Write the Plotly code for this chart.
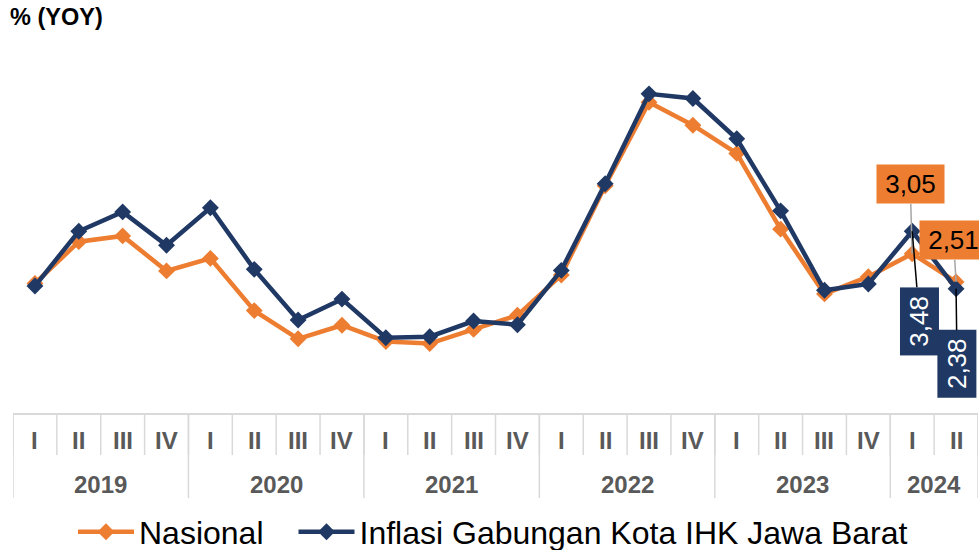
import plotly.graph_objects as go

years = ["2019", "2020", "2021", "2022", "2023", "2024"]
quarters_per_year = [4, 4, 4, 4, 4, 2]
quarter_names = ["I", "II", "III", "IV"]

categories = []
quarter_labels = []
for y, n in zip(years, quarters_per_year):
    for q in quarter_names[:n]:
        categories.append(f"{q} {y}")
        quarter_labels.append(q)

nasional = [2.48, 3.28, 3.39, 2.72, 2.96, 1.96, 1.42, 1.68,
            1.37, 1.33, 1.60, 1.87, 2.64, 4.35, 5.95, 5.51,
            4.97, 3.52, 2.28, 2.61, 3.05, 2.51]
jabar = [2.43, 3.48, 3.85, 3.21, 3.93, 2.75, 1.78, 2.18,
         1.44, 1.46, 1.76, 1.69, 2.73, 4.39, 6.11, 6.02,
         5.25, 3.87, 2.35, 2.47, 3.48, 2.38]

name_nas = "Nasional"
name_jb = "Inflasi Gabungan Kota IHK Jawa Barat"
ORANGE = "#ED7D31"
NAVY = "#203864"
GRID = "#D9D9D9"
FONT = "Arial, Liberation Sans, sans-serif"

W, H = 979, 550
PLOT_H = 397.0

fig = go.Figure()
fig.add_trace(go.Scatter(x=categories, y=nasional, name=name_nas, mode="lines+markers",
                         line=dict(color=ORANGE, width=4.5),
                         marker=dict(symbol="diamond", size=13, color=ORANGE),
                         legend="legend"))
fig.add_trace(go.Scatter(x=categories, y=jabar, name=name_jb, mode="lines+markers",
                         line=dict(color=NAVY, width=4.5),
                         marker=dict(symbol="diamond", size=13, color=NAVY),
                         legend="legend2"))

shapes = []
annotations = []
n = len(categories)
for i in range(n + 1):
    shapes.append(dict(type="line", xref="x", yref="paper", x0=i - 0.5, x1=i - 0.5,
                       y0=0, y1=-42 / PLOT_H, line=dict(color=GRID, width=1.5)))
for i, q in enumerate(quarter_labels):
    annotations.append(dict(x=categories[i], y=-27.5 / PLOT_H, xref="x", yref="paper",
                            text=f"<b>{q}</b>", showarrow=False, yanchor="middle",
                            font=dict(family=FONT, size=24, color="#595959")))
start = 0
bounds = [0]
for y, k in zip(years, quarters_per_year):
    annotations.append(dict(x=start + (k - 1) / 2, y=-71 / PLOT_H, xref="x", yref="paper",
                            text=f"<b>{y}</b>", showarrow=False, yanchor="middle",
                            font=dict(family=FONT, size=24, color="#595959")))
    start += k
    bounds.append(start)
for b in bounds:
    shapes.append(dict(type="line", xref="x", yref="paper", x0=b - 0.5, x1=b - 0.5,
                       y0=0, y1=-85 / PLOT_H, line=dict(color=GRID, width=1.5)))


def fmt(v):
    return f"{v:.2f}".replace(".", ",")


label_font = dict(family=FONT, size=26)
annotations += [
    dict(x=categories[20], y=nasional[20], xref="x", yref="y", text=fmt(nasional[20]),
         showarrow=True, arrowhead=0, arrowwidth=1.5, arrowcolor="#A6A6A6",
         ax=-2, ay=-69.5, standoff=0,
         bgcolor=ORANGE, width=67, height=38, borderpad=0,
         font=dict(label_font, color="black")),
    dict(x=categories[21], y=nasional[21], xref="x", yref="y", text=fmt(nasional[21]),
         showarrow=True, arrowhead=0, arrowwidth=1.5, arrowcolor="#A6A6A6",
         ax=-2.5, ay=-41.5, standoff=0,
         bgcolor=ORANGE, width=67, height=38, borderpad=0,
         font=dict(label_font, color="black")),
    dict(x=categories[20], y=jabar[20], xref="x", yref="y", text=fmt(jabar[20]),
         showarrow=True, arrowhead=0, arrowwidth=1.5, arrowcolor="black",
         ax=7.5, ay=90, standoff=0,
         bgcolor=NAVY, width=67, height=38, borderpad=0, textangle=-90,
         font=dict(label_font, color="white")),
    dict(x=categories[21], y=jabar[21], xref="x", yref="y", text=fmt(jabar[21]),
         showarrow=True, arrowhead=0, arrowwidth=1.5, arrowcolor="black",
         ax=1, ay=75.5, standoff=0,
         bgcolor=NAVY, width=67, height=38, borderpad=0, textangle=-90,
         font=dict(label_font, color="white")),
]

leg_common = dict(orientation="h", xref="container", yref="container",
                  xanchor="left", yanchor="middle", y=1 - 532 / H,
                  font=dict(family=FONT, size=32, color="black"), itemwidth=56,
                  bgcolor="rgba(0,0,0,0)", borderwidth=0)

fig.update_layout(
    width=W, height=H,
    margin=dict(l=13, r=1, t=16, b=137, autoexpand=False),
    paper_bgcolor="white", plot_bgcolor="white",
    font=dict(family=FONT),
    title=dict(text="<b>% (YOY)</b>", xref="container", yref="container",
               x=10 / W, xanchor="left", y=1 - 9 / H, yanchor="top",
               font=dict(family=FONT, size=23.5, color="black")),
    xaxis=dict(type="category", showticklabels=False, showgrid=False, zeroline=False,
               showline=True, linecolor=GRID, linewidth=2,
               range=[-0.5, n - 0.5], fixedrange=True),
    yaxis=dict(range=[0, 7.6], visible=False, showgrid=False, zeroline=False,
               fixedrange=True),
    showlegend=True,
    legend=dict(leg_common, x=73 / W),
    legend2=dict(leg_common, x=293.5 / W),
    shapes=shapes,
    annotations=annotations,
)

fig.write_html("out.html", config={"displayModeBar": False},
               post_script="document.body.style.margin='0';document.body.style.overflow='hidden';")
